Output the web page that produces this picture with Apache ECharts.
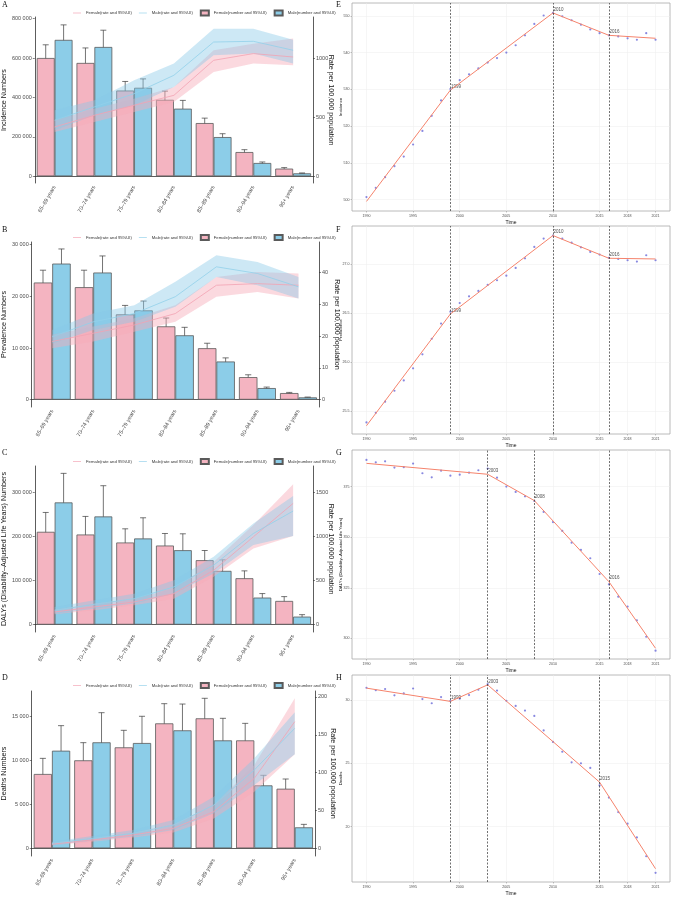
<!DOCTYPE html>
<html>
<head>
<meta charset="utf-8">
<script src="https://cdn.jsdelivr.net/npm/echarts@6/dist/echarts.min.js"></script>
<style>
html, body { margin: 0; padding: 0; background: #fff; }
#chart { width: 673px; height: 897px; }
</style>
</head>
<body>
<div id="chart"></div>
<script>
// ---- age panels (A-D) ----
var ageGroups = ['65–69 years', '70–74 years', '75–79 years', '80–84 years', '85–89 years', '90–94 years', '95+ years'];

// A incidence
var incF = [600000, 575000, 435000, 388000, 270000, 123000, 39000];
var incFLow = [533000, 508000, 388000, 348000, 245000, 111000, 34000];
var incFHigh = [667000, 651000, 481000, 432000, 295000, 135000, 44000];
var incM = [692000, 656000, 449000, 343000, 199000, 67500, 15000];
var incMLow = [621000, 584000, 402000, 305000, 182000, 60800, 13500];
var incMHigh = [768000, 741000, 494000, 385000, 216000, 72600, 17000];
var incRateF = [418, 517, 602, 686, 983, 1040, 1011];
var incRateFLow = [376, 460, 545, 630, 884, 955, 941];
var incRateFHigh = [475, 573, 658, 757, 1068, 1124, 1167];
var incRateM = [475, 588, 700, 856, 1138, 1144, 1068];
var incRateMLow = [390, 517, 602, 757, 1025, 1040, 955];
var incRateMHigh = [559, 644, 814, 955, 1251, 1251, 1158];

// B prevalence
var prevF = [22670, 21770, 16510, 14190, 9960, 4370, 1285];
var prevFLow = [20230, 19270, 14640, 12460, 8990, 3980, 1160];
var prevFHigh = [25050, 25050, 18240, 15800, 10920, 4820, 1410];
var prevM = [26330, 24600, 17280, 12460, 7390, 2250, 450];
var prevMLow = [23510, 21710, 15290, 10920, 6740, 2050, 385];
var prevMHigh = [29160, 27810, 19080, 14000, 8090, 2440, 510];
var prevRateF = [18.3, 20.9, 23.5, 27.1, 36.0, 36.5, 36.0];
var prevRateFLow = [16.2, 18.3, 21.4, 24.5, 32.4, 33.9, 31.8];
var prevRateFHigh = [20.4, 23.0, 25.6, 29.7, 38.6, 40.2, 39.7];
var prevRateM = [19.8, 24.5, 27.1, 32.4, 41.8, 39.7, 35.5];
var prevRateMLow = [17.7, 21.9, 24.5, 29.2, 38.6, 36.0, 31.8];
var prevRateMHigh = [21.9, 27.1, 29.7, 37.1, 45.4, 43.3, 38.6];

// C DALYs
var dalyF = [210600, 204500, 186400, 179500, 146200, 105300, 53800];
var dalyFLow = [171200, 169700, 156800, 147700, 113600, 78800, 38600];
var dalyFHigh = [254500, 245500, 217400, 206800, 168200, 122000, 63600];
var dalyM = [277300, 245500, 195500, 168900, 122000, 61400, 18200];
var dalyMLow = [222000, 206100, 165900, 142400, 102300, 50800, 13600];
var dalyMHigh = [343200, 315200, 242400, 206100, 147000, 70500, 22700];
var dalyRateF = [144, 201, 258, 352, 617, 996, 1375];
var dalyRateFLow = [117, 163, 220, 295, 542, 864, 1004];
var dalyRateFHigh = [170, 239, 295, 409, 712, 1129, 1591];
var dalyRateM = [163, 231, 295, 428, 674, 1034, 1288];
var dalyRateMLow = [125, 182, 239, 352, 580, 902, 1004];
var dalyRateMHigh = [201, 277, 352, 504, 769, 1148, 1458];

// D deaths
var deathF = [8430, 9980, 11450, 14170, 14740, 12240, 6760];
var deathFLow = [6800, 8240, 9670, 11680, 11340, 9180, 4760];
var deathFHigh = [10200, 11980, 13380, 16400, 17010, 14170, 7860];
var deathM = [11070, 12020, 11940, 13380, 12240, 7140, 2380];
var deathMLow = [8770, 9940, 10170, 11260, 10170, 5900, 1810];
var deathMHigh = [13910, 15380, 14970, 16360, 14740, 8280, 2720];
var deathRateF = [5.7, 11.0, 17.6, 26.4, 48.5, 92.5, 167.4];
var deathRateFLow = [4.0, 8.8, 14.5, 21.1, 39.6, 74.9, 124.2];
var deathRateFHigh = [7.5, 13.2, 20.7, 31.7, 57.3, 110.1, 198.2];
var deathRateM = [6.6, 13.2, 19.8, 30.8, 57.3, 103.5, 158.6];
var deathRateMLow = [4.4, 10.1, 15.4, 24.2, 46.3, 83.7, 124.2];
var deathRateMHigh = [8.8, 16.3, 24.2, 37.4, 68.3, 118.9, 179.7];

// ---- joinpoint panels (E-H) ----
var years = [1990, 1991, 1992, 1993, 1994, 1995, 1996, 1997, 1998, 1999, 2000, 2001, 2002, 2003, 2004, 2005,
  2006, 2007, 2008, 2009, 2010, 2011, 2012, 2013, 2014, 2015, 2016, 2017, 2018, 2019, 2020, 2021];
var yearTicks = [1990, 1995, 2000, 2005, 2010, 2015, 2018, 2021];

var incAsr = [500.7, 503.2, 506.1, 509.1, 511.7, 515.0, 518.7, 522.8, 527.0, 530.1, 532.5, 534.1, 535.7, 537.3, 538.5, 540.0,
  542.0, 544.7, 547.8, 550.1, 550.8, 549.9, 548.8, 547.6, 546.3, 545.3, 544.7, 544.4, 543.9, 543.5, 545.3, 543.5];
var incJoinYears = [1990, 1999, 2010, 2016, 2021];
var incFit = [499.5, 529.8, 550.8, 544.7, 543.9];
var incTicks = [500, 510, 520, 530, 540, 550];

var prevAsr = [25.388, 25.486, 25.599, 25.711, 25.816, 25.939, 26.082, 26.241, 26.395, 26.517, 26.605, 26.673, 26.728, 26.789, 26.837, 26.884,
  26.963, 27.061, 27.177, 27.262, 27.293, 27.262, 27.221, 27.173, 27.126, 27.099, 27.065, 27.054, 27.041, 27.027, 27.092, 27.041];
var prevJoinYears = [1990, 1999, 2010, 2016, 2021];
var prevFit = [25.354, 26.493, 27.293, 27.061, 27.054];
var prevTicks = [25.5, 26.0, 26.5, 27.0];

var dalyAsr = [388.2, 387.0, 387.5, 384.4, 384.6, 386.4, 381.6, 379.6, 382.9, 380.4, 380.9, 381.9, 383.1, 383.9, 379.4, 375.0,
  372.4, 370.2, 367.9, 362.5, 357.5, 353.1, 347.3, 343.7, 339.6, 331.8, 326.7, 320.6, 315.7, 308.9, 300.8, 293.9];
var dalyJoinYears = [1990, 2003, 2008, 2016, 2021];
var dalyFit = [386.5, 381.1, 368.1, 328.0, 295.1];
var dalyTicks = [300, 325, 350, 375];

var deathAsr = [31.0, 30.8, 30.9, 30.4, 30.55, 30.94, 30.1, 29.77, 30.26, 29.97, 30.13, 30.42, 30.84, 31.28, 30.78, 29.97,
  29.56, 29.19, 28.77, 27.62, 26.71, 25.93, 25.09, 25.01, 24.65, 23.26, 22.30, 21.15, 20.23, 19.14, 17.65, 16.34];
var deathJoinYears = [1990, 1999, 2003, 2015, 2021];
var deathFit = [30.97, 29.92, 31.23, 23.52, 16.66];
var deathTicks = [20, 25, 30];

// ---- styling ----
var FONT = 'Liberation Sans, Arial, sans-serif';
var PINK = '#F4B4C1', BLUE = '#8CCDE8';
var PINK_BAND = 'rgba(246,170,185,0.45)', BLUE_BAND = 'rgba(135,200,232,0.42)';
var PINK_LINE = '#F3A2B3', BLUE_LINE = '#92D0EA';

function spaced(v) {
  return String(v).replace(/\B(?=(\d{3})+(?!\d))/g, ' ');
}
function plain(v) {
  return String(v);
}

function errorBars(shift) {
  return function (params, api) {
    var k = api.value(0);
    var hi = api.coord([k, api.value(2)]);
    var lo = api.coord([k, api.value(1)]);
    var band = api.size([1, 0])[0];
    var x = hi[0] + band * shift;
    var cap = band * 0.075;
    var st = { stroke: '#3a3a3a', lineWidth: 0.7 };
    return {
      type: 'group', children: [
        { type: 'line', shape: { x1: x, y1: hi[1], x2: x, y2: lo[1] }, style: st },
        { type: 'line', shape: { x1: x - cap, y1: hi[1], x2: x + cap, y2: hi[1] }, style: st },
        { type: 'line', shape: { x1: x - cap, y1: lo[1], x2: x + cap, y2: lo[1] }, style: st }
      ]
    };
  };
}

var option = {
  animation: false,
  textStyle: { fontFamily: FONT },
  grid: [], xAxis: [], yAxis: [], series: [], legend: [], graphic: []
};

function addAgePanel(p) {
  var g = option.grid.length;
  option.grid.push({ left: p.left, top: p.top, width: p.width, height: p.height });
  var xi = option.xAxis.length;
  option.xAxis.push({
    type: 'category', gridIndex: g, data: ageGroups,
    axisLine: { lineStyle: { color: '#333', width: 0.8 } },
    axisTick: { length: 2, lineStyle: { color: '#333', width: 0.6 } },
    axisLabel: { rotate: 60, fontSize: 5.5, color: '#4d4d4d', margin: 3, interval: 0 }
  });
  var yl = option.yAxis.length, yr = yl + 1;
  option.yAxis.push({
    type: 'value', gridIndex: g, min: p.lMin, max: p.lMax,
    name: p.name, nameLocation: 'middle', nameGap: p.nameGap,
    nameTextStyle: { fontSize: 7.2, color: '#111' },
    axisLine: { show: true, lineStyle: { color: '#333', width: 0.8 } },
    axisTick: { show: true, length: 2, customValues: p.lTicks, lineStyle: { color: '#333', width: 0.6 } },
    axisLabel: { customValues: p.lTicks, fontSize: 5.5, color: '#4d4d4d', margin: 3, formatter: spaced },
    splitLine: { show: false }
  });
  option.yAxis.push({
    type: 'value', gridIndex: g, position: 'right', min: p.rMin, max: p.rMax,
    name: 'Rate per 100,000 population', nameLocation: 'middle', nameGap: 14, nameRotate: -90,
    nameMoveOverlap: false,
    nameTextStyle: { fontSize: 7.2, color: '#111' },
    axisLine: { show: true, lineStyle: { color: '#333', width: 0.8 } },
    axisTick: { show: true, length: 2, customValues: p.rTicks, lineStyle: { color: '#333', width: 0.6 } },
    axisLabel: { customValues: p.rTicks, fontSize: 5.5, color: '#4d4d4d', margin: 3, formatter: plain },
    splitLine: { show: false }
  });

  var barBase = { type: 'bar', xAxisIndex: xi, yAxisIndex: yl, barGap: '0%', barCategoryGap: '10%' };
  option.series.push(Object.assign({}, barBase, {
    name: 'Female(number and 95%UI)', data: p.F,
    itemStyle: { color: PINK, borderColor: '#5a5a5a', borderWidth: 0.8 }
  }));
  option.series.push(Object.assign({}, barBase, {
    name: 'Male(number and 95%UI)', data: p.M,
    itemStyle: { color: BLUE, borderColor: '#5a5a5a', borderWidth: 0.8 }
  }));
  option.series.push({
    type: 'custom', xAxisIndex: xi, yAxisIndex: yl, renderItem: errorBars(-0.225),
    encode: { x: 0, y: [1, 2] }, silent: true,
    data: p.FLow.map(function (lo, k) { return [k, lo, p.FHigh[k]]; })
  });
  option.series.push({
    type: 'custom', xAxisIndex: xi, yAxisIndex: yl, renderItem: errorBars(0.225),
    encode: { x: 0, y: [1, 2] }, silent: true,
    data: p.MLow.map(function (lo, k) { return [k, lo, p.MHigh[k]]; })
  });

  // 95% UI ribbons: lower bound + width stacked
  [[p.rFLow, p.rFHigh, PINK_BAND, 'f'], [p.rMLow, p.rMHigh, BLUE_BAND, 'm']].forEach(function (b) {
    var stack = 'band' + g + b[3];
    option.series.push({
      type: 'line', xAxisIndex: xi, yAxisIndex: yr, stack: stack, data: b[0],
      symbol: 'none', silent: true, lineStyle: { opacity: 0 }
    });
    option.series.push({
      type: 'line', xAxisIndex: xi, yAxisIndex: yr, stack: stack,
      data: b[1].map(function (h, k) { return h - b[0][k]; }),
      symbol: 'none', silent: true, lineStyle: { opacity: 0 }, areaStyle: { color: b[2], opacity: 1 }
    });
  });
  option.series.push({
    name: 'Female(rate and 95%UI)', type: 'line', xAxisIndex: xi, yAxisIndex: yr, data: p.rF,
    symbol: 'none', lineStyle: { color: PINK_LINE, width: 0.8 }, itemStyle: { color: PINK_LINE }
  });
  option.series.push({
    name: 'Male(rate and 95%UI)', type: 'line', xAxisIndex: xi, yAxisIndex: yr, data: p.rM,
    symbol: 'none', lineStyle: { color: BLUE_LINE, width: 0.8 }, itemStyle: { color: BLUE_LINE }
  });

  var lineIcon = 'path://M0,0H12V1H0Z';
  option.legend.push({
    top: p.legendTop, left: 68, selectedMode: false, itemWidth: 8, itemHeight: 5, itemGap: 7,
    textStyle: { fontSize: 4.2, color: '#333' },
    data: [
      { name: 'Female(rate and 95%UI)', icon: lineIcon, itemStyle: { color: PINK_LINE } },
      { name: 'Male(rate and 95%UI)', icon: lineIcon, itemStyle: { color: BLUE_LINE } },
      { name: 'Female(number and 95%UI)', icon: 'rect' },
      { name: 'Male(number and 95%UI)', icon: 'rect' }
    ]
  });
  option.graphic.push({
    type: 'text', left: 2, top: p.letterTop,
    style: { text: p.letter, font: '8px Liberation Serif, Times New Roman, serif', fill: '#111' }
  });
}

function addTrendPanel(p) {
  var g = option.grid.length;
  option.grid.push({ left: 352, top: p.top, width: 318, height: p.height, show: true, borderColor: '#a8a8a8', borderWidth: 0.8 });
  var xi = option.xAxis.length, yi = option.yAxis.length;
  option.xAxis.push({
    type: 'value', gridIndex: g, min: 1988.45, max: 2022.55,
    name: 'Time', nameLocation: 'middle', nameGap: 9, nameTextStyle: { fontSize: 5, color: '#111' },
    axisLine: { show: false },
    axisTick: { show: true, length: 1.5, customValues: yearTicks, lineStyle: { color: '#888', width: 0.5 } },
    axisLabel: { customValues: yearTicks, fontSize: 3.6, color: '#4d4d4d', margin: 2.5, formatter: plain },
    splitLine: { show: true, lineStyle: { color: '#ececec', width: 0.5 } }
  });
  option.yAxis.push({
    type: 'value', gridIndex: g, min: p.yMin, max: p.yMax,
    name: p.name, nameLocation: 'middle', nameGap: 9, nameMoveOverlap: false,
    nameTextStyle: { fontSize: 4.3, color: '#111' },
    axisLine: { show: false },
    axisTick: { show: true, length: 1.5, customValues: p.ticks, lineStyle: { color: '#888', width: 0.5 } },
    axisLabel: { customValues: p.ticks, fontSize: 3.6, color: '#4d4d4d', margin: 2.5, formatter: p.fmt || plain },
    splitLine: { show: true, lineStyle: { color: '#ececec', width: 0.5 } }
  });
  var breaks = p.joinYears.slice(1, -1);
  option.series.push({
    type: 'scatter', xAxisIndex: xi, yAxisIndex: yi, symbolSize: 2.2,
    itemStyle: { color: '#6a6ad8' },
    data: years.map(function (y, k) { return [y, p.obs[k]]; })
  });
  option.series.push({
    type: 'line', xAxisIndex: xi, yAxisIndex: yi, symbol: 'none',
    lineStyle: { color: '#F5836C', width: 1 },
    data: p.joinYears.map(function (y, k) { return [y, p.fit[k]]; }),
    markLine: {
      silent: true, symbol: ['none', 'none'], label: { show: false },
      lineStyle: { type: [2, 1.5], color: '#333', width: 0.7 },
      data: breaks.map(function (y) { return { xAxis: y }; })
    }
  });
  option.series.push({
    type: 'scatter', xAxisIndex: xi, yAxisIndex: yi, symbolSize: 0, silent: true,
    data: breaks.map(function (y, k) { return [y, p.fit[k + 1]]; }),
    label: {
      show: true, position: 'right', distance: 0.5, offset: [0, -3.5],
      fontSize: 4.5, color: '#222', formatter: function (d) { return String(d.value[0]); }
    }
  });
  option.graphic.push({
    type: 'text', left: 336, top: p.letterTop,
    style: { text: p.letter, font: '8px Liberation Serif, Times New Roman, serif', fill: '#111' }
  });
}

addAgePanel({
  letter: 'A', letterTop: 1, legendTop: 4.5, left: 31, top: 17, width: 282, height: 166,
  name: 'Incidence Numbers', nameGap: 23,
  lMin: -34000, lMax: 808000, lTicks: [0, 200000, 400000, 600000, 800000],
  rMin: -56.8, rMax: 1350, rTicks: [0, 500, 1000],
  F: incF, FLow: incFLow, FHigh: incFHigh, M: incM, MLow: incMLow, MHigh: incMHigh,
  rF: incRateF, rFLow: incRateFLow, rFHigh: incRateFHigh, rM: incRateM, rMLow: incRateMLow, rMHigh: incRateMHigh
});
addAgePanel({
  letter: 'B', letterTop: 226, legendTop: 229, left: 27, top: 242, width: 292, height: 165,
  name: 'Prevalence Numbers', nameGap: 19,
  lMin: -1413, lMax: 30507, lTicks: [0, 10000, 20000, 30000],
  rMin: -2.3, rMax: 49.6, rTicks: [0, 10, 20, 30, 40],
  F: prevF, FLow: prevFLow, FHigh: prevFHigh, M: prevM, MLow: prevMLow, MHigh: prevMHigh,
  rF: prevRateF, rFLow: prevRateFLow, rFHigh: prevRateFHigh, rM: prevRateM, rMLow: prevRateMLow, rMHigh: prevRateMHigh
});
addAgePanel({
  letter: 'C', letterTop: 449, legendTop: 453, left: 31, top: 466, width: 282, height: 166,
  name: 'DALYs (Disability–Adjusted Life Years) Numbers', nameGap: 23,
  lMin: -16670, lMax: 359900, lTicks: [0, 100000, 200000, 300000],
  rMin: -83, rMax: 1799, rTicks: [0, 500, 1000, 1500],
  F: dalyF, FLow: dalyFLow, FHigh: dalyFHigh, M: dalyM, MLow: dalyMLow, MHigh: dalyMHigh,
  rF: dalyRateF, rFLow: dalyRateFLow, rFHigh: dalyRateFHigh, rM: dalyRateM, rMLow: dalyRateMLow, rMHigh: dalyRateMHigh
});
addAgePanel({
  letter: 'D', letterTop: 674, legendTop: 677, left: 27, top: 691, width: 288, height: 165,
  name: 'Deaths Numbers', nameGap: 19,
  lMin: -869, lMax: 17838, lTicks: [0, 5000, 10000, 15000],
  rMin: -10.1, rMax: 207.9, rTicks: [0, 50, 100, 150, 200],
  F: deathF, FLow: deathFLow, FHigh: deathFHigh, M: deathM, MLow: deathMLow, MHigh: deathMHigh,
  rF: deathRateF, rFLow: deathRateFLow, rFHigh: deathRateFHigh, rM: deathRateM, rMLow: deathRateMLow, rMHigh: deathRateMHigh
});

addTrendPanel({
  letter: 'E', letterTop: 1, top: 3, height: 208, name: 'Incidence',
  yMin: 496.9, yMax: 553.5, ticks: incTicks, obs: incAsr, joinYears: incJoinYears, fit: incFit
});
addTrendPanel({
  letter: 'F', letterTop: 226, top: 226, height: 208, name: 'Prevalence',
  yMin: 25.27, yMax: 27.39, ticks: prevTicks, obs: prevAsr, joinYears: prevJoinYears, fit: prevFit,
  fmt: function (v) { return v.toFixed(1); }
});
addTrendPanel({
  letter: 'G', letterTop: 449, top: 450, height: 209, name: 'DALYs (Disability–Adjusted Life Years)',
  yMin: 289.8, yMax: 393.1, ticks: dalyTicks, obs: dalyAsr, joinYears: dalyJoinYears, fit: dalyFit
});
addTrendPanel({
  letter: 'H', letterTop: 674, top: 675, height: 209, name: 'Deaths',
  yMin: 15.61, yMax: 32.01, ticks: deathTicks, obs: deathAsr, joinYears: deathJoinYears, fit: deathFit
});

var chart = echarts.init(document.getElementById('chart'), null, { renderer: 'canvas' });
chart.setOption(option);
</script>
</body>
</html>
